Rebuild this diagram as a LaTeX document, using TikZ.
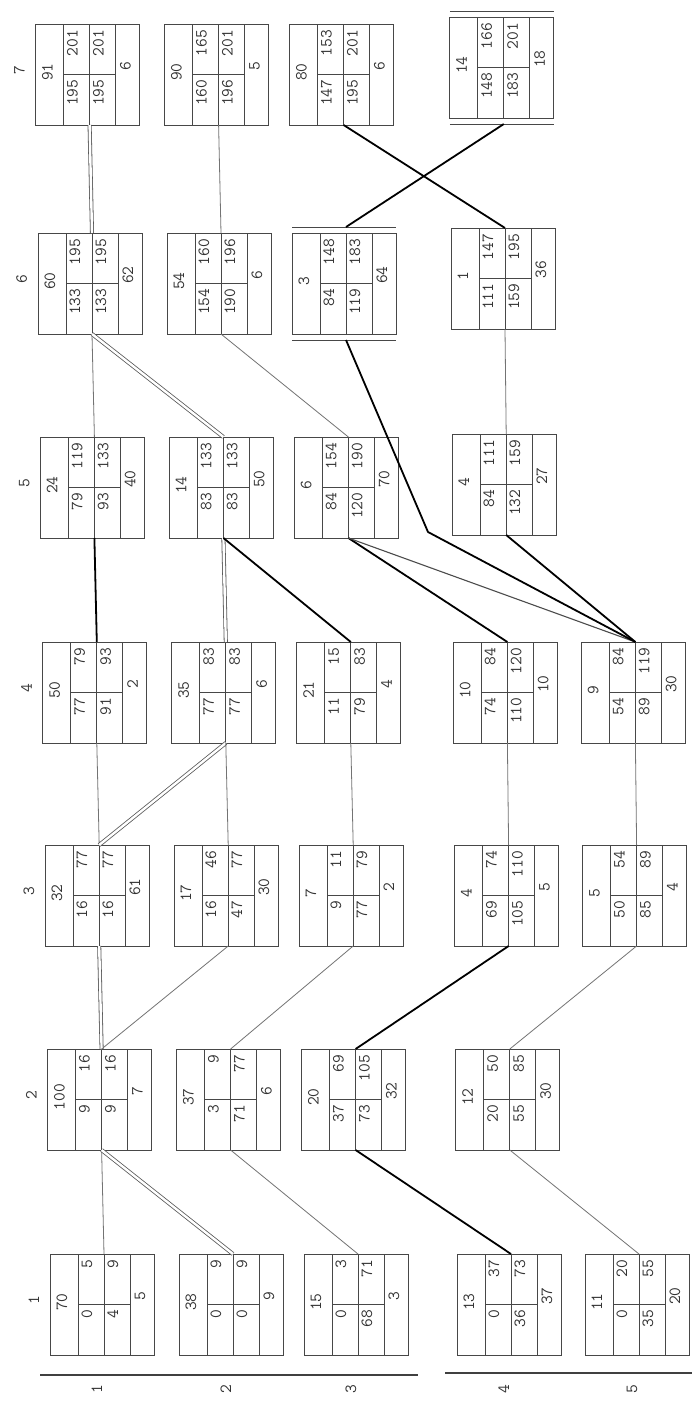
\documentclass[tikz,border=0pt]{standalone}
\usepackage{fontspec}
\newcommand\dig{\ttfamily\addfontfeature{FakeStretch=1.3}}
\begin{document}
\begin{tikzpicture}[x=1pt,y=-1pt,
  boxframe/.style={draw=black!72,line width=1pt,minimum width=104pt,minimum height=101pt,inner sep=0pt,outer sep=0pt,anchor=north west},
  boxline/.style={draw=black!72,line width=1pt},
  num/.style={font=\fontsize{17}{17}\selectfont\dig,text=black!80,inner sep=0pt,rotate=90},
  thinc/.style={draw=black!55,line width=0.8pt},
  thickc/.style={draw=black,line width=1.8pt},
  midc/.style={draw=black!70,line width=1.1pt},
  dblc/.style={draw=black!65,line width=0.8pt,double=white,double distance=2.4pt},
]
\fill[white] (0,0) rectangle (692,1401);
\useasboundingbox (0,0) rectangle (692,1401);

\foreach \st/\rw/\lef/\ef/\es/\lf/\ls/\dur/\dd in {
1/1/70/5/0/9/4/5/0,
1/2/38/9/0/9/0/9/0,
1/3/15/3/0/71/68/3/0,
1/4/13/37/0/73/36/37/0,
1/5/11/20/0/55/35/20/0,
2/1/100/16/9/16/9/7/0,
2/2/37/9/3/77/71/6/0,
2/3/20/69/37/105/73/32/0,
2/4/12/50/20/85/55/30/0,
3/1/32/77/16/77/16/61/0,
3/2/17/46/16/77/47/30/0,
3/3/7/11/9/79/77/2/0,
3/4/4/74/69/110/105/5/0,
3/5/5/54/50/89/85/4/0,
4/1/50/79/77/93/91/2/0,
4/2/35/83/77/83/77/6/0,
4/3/21/15/11/83/79/4/0,
4/4/10/84/74/120/110/10/0,
4/5/9/84/54/119/89/30/0,
5/1/24/119/79/133/93/40/0,
5/2/14/133/83/133/83/50/0,
5/3/6/154/84/190/120/70/0,
5/4/4/111/84/159/132/27/0,
6/1/60/195/133/195/133/62/0,
6/2/54/160/154/196/190/6/0,
6/3/3/148/84/183/119/64/1,
6/4/1/147/111/195/159/36/0,
7/1/91/201/195/201/195/6/0,
7/2/90/165/160/201/196/5/0,
7/3/80/153/147/201/195/6/0,
7/4/14/166/148/201/183/18/1}{
  \pgfmathsetmacro\bx{{50,179,304,457,585}[\rw-1]}
  \pgfmathsetmacro\sh{ifthenelse(\rw<4,2.4,1.2)}
  \pgfmathsetmacro\X{\bx-\sh*(\st-1)}
  \pgfmathsetmacro\by{{1254,1049,845,642,437,233,24}[\st-1]}
  \pgfmathsetmacro\dyy{{0,0,0,0,-3,-5,-7}[\st-1]}
  \pgfmathsetmacro\Y{\by+ifthenelse(\rw>3,\dyy,0)}
  \node[boxframe] (b\st\rw) at (\X,\Y) {};
  \draw[boxline] (\X+28,\Y) -- (\X+28,\Y+101)
                 (\X+54,\Y) -- (\X+54,\Y+101)
                 (\X+80,\Y) -- (\X+80,\Y+101)
                 (\X+28,\Y+50.5) -- (\X+80,\Y+50.5);
  \node[num,anchor=base] (l\st\rw) at (\X+17,\Y+48) {\lef};
  \node[num,anchor=base east] (ef\st\rw) at (\X+42,\Y+6) {\ef};
  \node[num,anchor=base east] (es\st\rw) at (\X+42,\Y+55.5) {\es};
  \node[num,anchor=base east] (lf\st\rw) at (\X+68,\Y+6) {\lf};
  \node[num,anchor=base east] (ls\st\rw) at (\X+68,\Y+55.5) {\ls};
  \node[num,anchor=base] (d\st\rw) at (\X+95,\Y+42) {\dur};
  \ifnum\dd=1
    \draw[boxline] (\X,\Y-6) -- (\X+104,\Y-6) (\X,\Y+107) -- (\X+104,\Y+107);
    \coordinate (t\st\rw) at (\X+54,\Y-6);
    \coordinate (u\st\rw) at (\X+54,\Y+107);
  \else
    \coordinate (t\st\rw) at (\X+54,\Y);
    \coordinate (u\st\rw) at (\X+54,\Y+101);
  \fi
}

% stage labels
\foreach \st in {1,...,7}{
  \pgfmathsetmacro\by{{1254,1049,845,642,437,233,24}[\st-1]}
  \pgfmathsetmacro\X{50-2.4*(\st-1)}
  \node[num,anchor=base] (stage\st) at (\X-11,\by+46) {\st};
}
% row labels
\foreach \rw/\bx in {1/50,2/179,3/304,4/457,5/585}{
  \node[num,anchor=base] (row\rw) at (\bx+52,1389) {\rw};
}
\draw[draw=black!75,line width=1.6pt] (40,1375) -- (418,1375);
\draw[draw=black!75,line width=1.6pt] (445,1373) -- (692,1373);

% connectors
\draw[thinc] (t11) -- (u21);
\draw[dblc] (t12) -- (u21);
\draw[thinc] (t13) -- (u22);
\draw[thickc] (t14) -- (u23);
\draw[thinc] (t15) -- (u24);
\draw[dblc] (t21) -- (u31);
\draw[thinc] (t21) -- (u32);
\draw[thinc] (t22) -- (u33);
\draw[thickc] (t23) -- (u34);
\draw[thinc] (t24) -- (u35);
\draw[thinc] (t31) -- (u41);
\draw[dblc] (t31) -- (u42);
\draw[thinc] (t32) -- (u42);
\draw[thinc] (t33) -- (u43);
\draw[thinc] (t34) -- (u44);
\draw[thinc] (t35) -- (u45);
\draw[thickc] (t41) -- (u51);
\draw[dblc] (t42) -- (u52);
\draw[thickc] (t43) -- (u52);
\draw[thickc] (t44) -- (u53);
\draw[midc] (t45) -- (u53);
\draw[thickc] (t45) -- (u54);
\coordinate (bend) at (428,532);
\draw[thickc,line join=round] (t45) -- (bend) -- (u63);
\draw[thinc] (t51) -- (u61);
\draw[dblc] (t52) -- (u61);
\draw[thinc] (t53) -- (u62);
\draw[thinc] (t54) -- (u64);
\draw[dblc] (t61) -- (u71);
\draw[thinc] (t62) -- (u72);
\draw[thickc] (t63) -- (u74);
\draw[thickc] (t64) -- (u73);
\end{tikzpicture}
\end{document}
